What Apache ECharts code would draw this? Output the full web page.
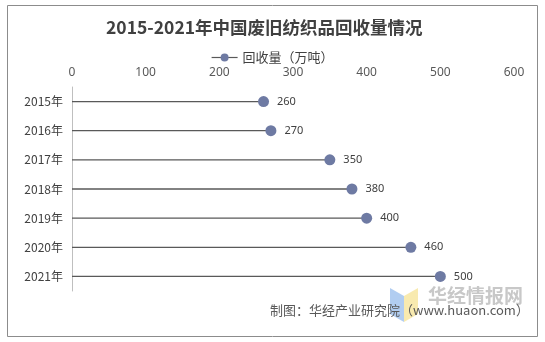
<!DOCTYPE html>
<html><head><meta charset="utf-8">
<script src="https://cdn.jsdelivr.net/npm/echarts@6/dist/echarts.min.js"></script>
<style>html,body{margin:0;padding:0;background:#fff}#c{width:545px;height:342px}</style>
</head><body><div id="c"></div>
<script>
const categories = ['2015年','2016年','2017年','2018年','2019年','2020年','2021年'];
const values = [260, 270, 350, 380, 400, 460, 500];
const seriesName = '回收量（万吨）';
const titleText = '2015-2021年中国废旧纺织品回收量情况';
const sourceText = '制图：华经产业研究院（www.huaon.com）';

const chart = echarts.init(document.getElementById('c'));
chart.setOption({
  animation: false,
  title: {
    text: titleText, left: 101, top: 14,
    textStyle: {fontFamily: '"Noto Sans CJK SC"', fontSize: 17.5, fontWeight: 'bold', color: '#404040'}
  },
  legend: {
    data: [seriesName], top: 46, left: 206,
    itemWidth: 26, itemHeight: 10, itemGap: 2,
    lineStyle: {color: '#595959', width: 1.2, opacity: 1},
    textStyle: {fontFamily: '"Noto Sans CJK SC"', fontSize: 13, color: '#404040'}
  },
  grid: {left: 72, right: 31, top: 87, height: 204},
  xAxis: {
    type: 'value', position: 'top', min: 0, max: 600, interval: 100,
    axisLine: {show: false}, axisTick: {show: false}, splitLine: {show: false},
    axisLabel: {fontFamily: '"Noto Sans"', fontSize: 12, color: '#595959', margin: 8}
  },
  yAxis: {
    type: 'category', data: categories, inverse: true,
    axisLine: {show: true, lineStyle: {color: '#BFBFBF', width: 1}},
    axisTick: {show: false},
    axisLabel: {fontFamily: '"Noto Sans CJK SC"', fontSize: 12, color: '#404040', margin: 9}
  },
  series: [
    {
      type: 'bar', data: values, barWidth: 1.3, silent: true,
      itemStyle: {color: '#595959'}, legendHoverLink: false
    },
    {
      name: seriesName, type: 'line', data: values,
      symbol: 'circle', symbolSize: 11, showAllSymbol: true,
      lineStyle: {width: 0, opacity: 0},
      itemStyle: {color: '#6E7AA3'},
      label: {show: true, position: 'right', distance: 8, fontFamily: '"Noto Sans"', fontSize: 11, color: '#404040'},
      z: 5
    }
  ],
  graphic: [
    {type: 'rect', shape: {x: 7.5, y: 5.5, width: 530, height: 331}, style: {fill: 'none', stroke: '#8C8C8C', lineWidth: 1}, z: -1},
    {type: 'polygon', shape: {points: [[390,288],[404,296],[404,322],[390,314]]}, style: {fill: '#A9C8F0', opacity: 0.9}},
    {type: 'polygon', shape: {points: [[404,296],[418,288],[418,314],[404,322]]}, style: {fill: '#F7E8A6', opacity: 0.9}},
    {type: 'text', left: 428, top: 286, style: {text: '华经情报网', fontFamily: '"Noto Sans CJK SC"', fontSize: 19, fontWeight: 'bold', fill: '#C8C8C8'}},
    {type: 'text', left: 270, top: 304, style: {text: sourceText, fontFamily: '"Noto Sans CJK SC"', fontSize: 13, fill: '#595959'}}
  ]
});
</script></body></html>
